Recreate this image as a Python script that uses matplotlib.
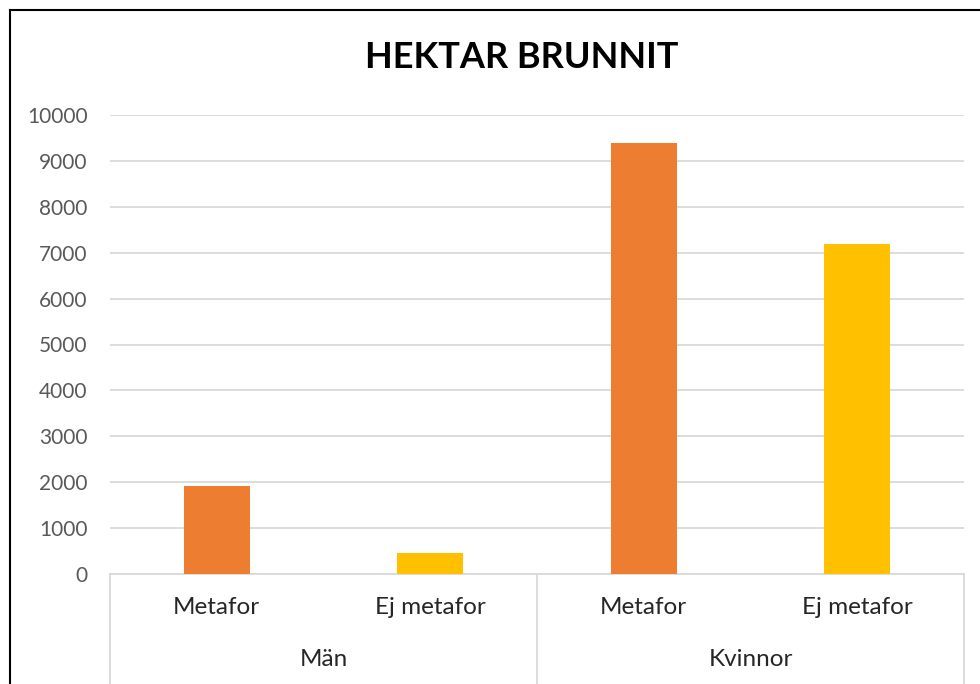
import matplotlib.pyplot as plt
import matplotlib.transforms as mtransforms
from matplotlib.lines import Line2D

# data
groups = ['Män', 'Kvinnor']
subcats = ['Metafor', 'Ej metafor']
values = [1920, 455, 9400, 7200]
colors = ['#ED7D31', '#FFC000', '#ED7D31', '#FFC000']
yticks = [0, 1000, 2000, 3000, 4000, 5000, 6000, 7000, 8000, 9000, 10000]

plt.rcParams['font.family'] = ['Lato', 'DejaVu Sans']

fig = plt.figure(figsize=(9.8, 6.84), dpi=100)
ax = fig.add_axes([110 / 980, 110 / 684, 854 / 980, 459 / 684])

x = list(range(len(values)))
ax.bar(x, values, width=0.31, color=colors, zorder=3)

ax.set_xlim(-0.5, len(values) - 0.5)
ax.set_ylim(0, 10000)
ax.set_yticks(yticks)
ax.set_yticklabels([str(t) for t in yticks], color='#595959', fontsize=15)
ax.tick_params(axis='y', length=0, pad=16)
ax.set_xticks([])
ax.yaxis.grid(True, color='#D9D9D9', linewidth=1.3, zorder=0)
for s in ['left', 'right', 'top']:
    ax.spines[s].set_visible(False)
ax.spines['bottom'].set_color('#D9D9D9')
ax.spines['bottom'].set_linewidth(1.3)

# two-level category axis
tr = mtransforms.blended_transform_factory(ax.transData, fig.transFigure)
labels = [s for g in groups for s in subcats]
for i, lab in enumerate(labels):
    ax.text(i, 1 - 608 / 684, lab, transform=tr, ha='center', va='center',
            fontsize=17.5, color='#262626')
for j, g in enumerate(groups):
    ax.text(j * 2 + 0.5, 1 - 660 / 684, g, transform=tr, ha='center', va='center',
            fontsize=17.5, color='#262626')
for xs in [-0.5, 1.5, 3.5]:
    ax.add_line(Line2D([xs, xs], [0, 110 / 684], transform=tr, color='#D9D9D9',
                       linewidth=1.3, clip_on=False))

fig.text(522 / 980, 1 - 58 / 684, 'HEKTAR BRUNNIT', ha='center', va='center',
         fontsize=26, fontweight='bold', color='black')

# outer frame (left and top edges visible)
fig.add_artist(Line2D([10 / 980, 10 / 980], [0, 1 - 10 / 684], transform=fig.transFigure,
                      color='black', linewidth=1.5))
fig.add_artist(Line2D([10 / 980, 1], [1 - 10 / 684, 1 - 10 / 684], transform=fig.transFigure,
                      color='black', linewidth=1.5))

fig.savefig('out.png', dpi=100)
